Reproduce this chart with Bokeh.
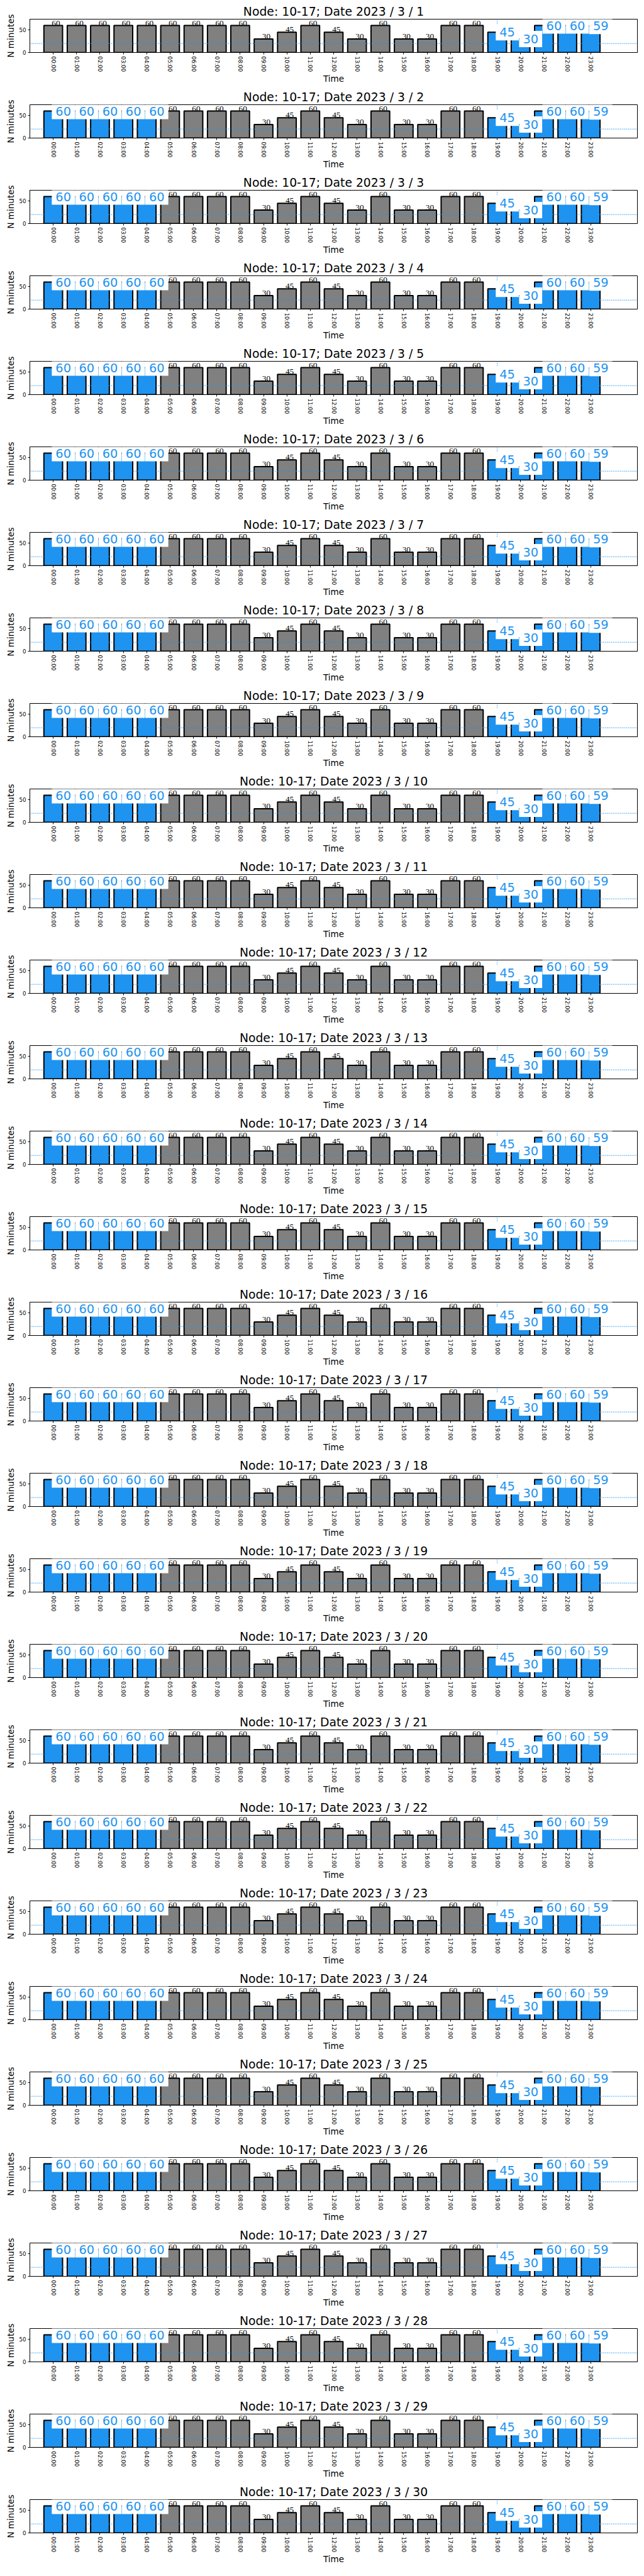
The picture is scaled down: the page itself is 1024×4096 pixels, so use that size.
import math
from bokeh.plotting import figure
from bokeh.models import Span, Label, LabelSet, ColumnDataSource, FixedTicker, Range1d
from bokeh.layouts import column
from bokeh.embed import file_html
from bokeh.resources import INLINE

# ---------------- data ----------------
hour_labels = ["00:00", "01:00", "02:00", "03:00", "04:00", "05:00", "06:00", "07:00",
               "08:00", "09:00", "10:00", "11:00", "12:00", "13:00", "14:00", "15:00",
               "16:00", "17:00", "18:00", "19:00", "20:00", "21:00", "22:00", "23:00"]
minutes = [60, 60, 60, 60, 60, 60, 60, 60, 60, 30, 45, 60,
           45, 30, 60, 30, 30, 60, 60, 45, 30, 60, 60, 59]
days = list(range(1, 31))
node = "10-17"
year = 2023
month = 3
night_hours_first_day = [19, 20, 21, 22, 23]
night_hours = [0, 1, 2, 3, 4, 19, 20, 21, 22, 23]
threshold = 20
marker_hour = 19
y_ticks = [0, 50]

# ---------------- style ----------------
FONT = "DejaVu Sans"
BLUE = "#1E93F0"
GRAY = "#808080"


def panel(day):
    hl = night_hours_first_day if day == 1 else night_hours
    p = figure(width=1016, height=136,
               x_range=Range1d(-1, 25), y_range=Range1d(0, 74.1),
               output_backend="svg", toolbar_location=None,
               min_border_left=47, min_border_right=3,
               min_border_top=30, min_border_bottom=52,
               title=f"Node: {node}; Date {year} / {month} / {day}")
    p.title.text_font = FONT
    p.title.text_font_size = "18.8px"
    p.title.text_font_style = "normal"
    p.title.text_color = "black"
    p.title.align = "center"
    p.title.standoff = 4
    p.title.offset = 0

    xs = list(range(len(minutes)))
    colors = [BLUE if h in hl else GRAY for h in xs]
    src = ColumnDataSource(dict(x=xs, top=minutes, color=colors))
    p.vbar(x="x", top="top", width=0.8, fill_color="color", line_color="black",
           line_width=2, source=src)

    p.add_layout(Span(location=threshold, dimension="width", line_color=BLUE,
                      line_width=1.4, line_dash="1 2"))
    p.add_layout(Span(location=marker_hour, dimension="height", line_color=BLUE,
                      line_width=1.4, line_dash="1 2"))

    gx = [h for h in xs if h not in hl]
    gsrc = ColumnDataSource(dict(x=gx, y=[minutes[h] for h in gx],
                                 t=[str(minutes[h]) for h in gx]))
    p.add_layout(LabelSet(x="x", y="y", text="t", source=gsrc, x_offset=-2.3,
                          text_font=FONT, text_font_size="13.3px",
                          text_align="left", text_baseline="alphabetic",
                          text_color="black"))
    for h in hl:
        p.add_layout(Label(x=h, y=minutes[h], text=str(minutes[h]), x_offset=-2.3,
                           text_font=FONT, text_font_size="19.4px",
                           text_align="left", text_baseline="alphabetic",
                           text_color=BLUE, background_fill_color="white",
                           padding=6, level="overlay"))

    p.xgrid.visible = False
    p.ygrid.visible = False
    p.outline_line_color = "black"
    p.outline_line_width = 1

    xa = p.xaxis[0]
    xa.ticker = FixedTicker(ticks=xs)
    xa.major_label_overrides = {i: hour_labels[i] for i in xs}
    xa.major_label_orientation = "vertical"
    xa.axis_label = "Time"
    ya = p.yaxis[0]
    ya.ticker = FixedTicker(ticks=y_ticks)
    ya.axis_label = "N minutes"
    for ax in (xa, ya):
        ax.minor_tick_line_color = None
        ax.major_tick_in = 0
        ax.major_tick_out = 3
        ax.major_tick_line_width = 1
        ax.major_tick_line_color = "black"
        ax.axis_line_width = 1
        ax.axis_line_color = "black"
        ax.major_label_text_font = FONT
        ax.major_label_text_font_size = "8.6px"
        ax.major_label_text_color = "black"
        ax.major_label_standoff = 3
        ax.axis_label_text_font = FONT
        ax.axis_label_text_font_size = "13.5px"
        ax.axis_label_text_font_style = "normal"
        ax.axis_label_text_color = "black"
        ax.axis_label_standoff = 0
    ya.axis_label_standoff = 3
    return p


figs = [panel(d) for d in days]
layout = column(*figs, spacing=0)
open("out.html", "w").write(file_html(layout, INLINE))
